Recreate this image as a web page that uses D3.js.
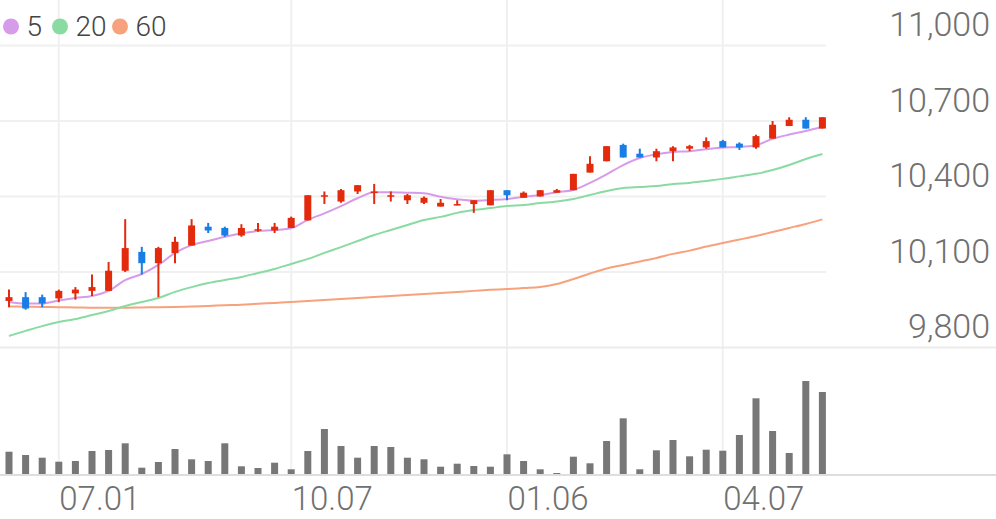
<!DOCTYPE html>
<html>
<head>
<meta charset="utf-8">
<script src="https://cdn.jsdelivr.net/npm/d3@7"></script>
<style>
    body { margin: 0; background: #fff; }
    svg { display: block; }
    svg text { font-family: Roboto, "Noto Sans", sans-serif; }

    .grid line { stroke: #f0f0f0; stroke-width: 2; }
    .sep { stroke: #ececec; stroke-width: 2; }
    .base { stroke: #dedede; stroke-width: 2; }

    .yaxis text { font-size: 34px; font-weight: 300; fill: #707070; }
    .xaxis text { font-size: 33px; font-weight: 300; fill: #707070; }
    .legend text { font-size: 28px; font-weight: 300; fill: #444; }

    .ma { fill: none; stroke-width: 2; }
</style>
</head>
<body>
<svg class="chart" width="996" height="519"></svg>
<script>

    // weekly candles
    const dates = ["2024-06-10","2024-06-17","2024-06-24","2024-07-01","2024-07-08","2024-07-15","2024-07-22","2024-07-29",
        "2024-08-05","2024-08-12","2024-08-19","2024-08-26","2024-09-02","2024-09-09","2024-09-16","2024-09-23","2024-09-30",
        "2024-10-07","2024-10-14","2024-10-21","2024-10-28","2024-11-04","2024-11-11","2024-11-18","2024-11-25","2024-12-02",
        "2024-12-09","2024-12-16","2024-12-23","2024-12-30","2025-01-06","2025-01-13","2025-01-20","2025-01-27","2025-02-03",
        "2025-02-10","2025-02-17","2025-02-24","2025-03-03","2025-03-10","2025-03-17","2025-03-24","2025-03-31","2025-04-07",
        "2025-04-14","2025-04-21","2025-04-28","2025-05-05","2025-05-12","2025-05-19"];

    const open  = [9985,10000,10000,9995,10015,10025,10025,10105,10180,10135,10175,10205,10280,10275,10245,10265,10265,
        10275,10305,10400,10380,10420,10415,10400,10385,10375,10360,10365,10370,10365,10425,10395,10400,10415,10425,
        10495,10540,10605,10570,10555,10580,10590,10595,10620,10610,10595,10630,10680,10705,10670];
    const high  = [10030,10020,10010,10030,10040,10090,10140,10310,10200,10200,10240,10310,10295,10280,10290,10295,10295,
        10320,10405,10420,10430,10445,10450,10420,10410,10400,10390,10385,10385,10425,10425,10420,10425,10430,10490,
        10560,10600,10610,10590,10590,10600,10605,10635,10625,10615,10645,10700,10715,10715,10715];
    const low   = [9960,9950,9960,9980,9990,10005,10025,10100,10090,10000,10135,10205,10255,10240,10240,10260,10255,
        10275,10305,10370,10375,10410,10370,10380,10370,10370,10360,10365,10335,10365,10385,10395,10400,10415,10425,
        10495,10540,10555,10555,10540,10540,10580,10590,10595,10585,10590,10630,10680,10670,10670];
    const close = [10000,9955,9975,10025,10030,10040,10105,10195,10135,10195,10220,10285,10265,10245,10275,10270,10280,
        10315,10405,10405,10425,10445,10420,10405,10405,10395,10375,10370,10385,10425,10405,10415,10425,10425,10490,
        10530,10600,10555,10555,10580,10595,10600,10620,10595,10595,10640,10685,10705,10670,10715];

    const volume = [233,200,173,133,140,240,250,317,73,130,260,157,140,317,87,70,123,57,240,460,290,173,290,280,173,
        157,83,113,90,83,207,140,57,20,183,117,340,567,57,247,350,187,253,243,400,767,440,220,940,830];

    const ma5  = [9981,9975,9975,9987,9997,10005,10025,10068,10092,10128,10176,10207,10223,10240,10254,10263,10267,
        10274,10307,10333,10362,10393,10417,10417,10415,10413,10399,10389,10383,10386,10390,10399,10406,10417,10426,
        10454,10488,10525,10553,10568,10577,10580,10588,10595,10597,10604,10629,10646,10660,10677];
    const ma20 = [9846,9866,9885,9901,9913,9929,9945,9965,9981,9997,10021,10040,10056,10068,10080,10096,10112,
        10132,10152,10176,10199,10223,10247,10267,10287,10307,10319,10335,10346,10354,10362,10366,10374,10380,10390,
        10406,10422,10434,10438,10442,10450,10454,10462,10470,10480,10490,10505,10525,10549,10569];
    const ma60 = [9963,9962,9961,9960,9959,9958,9958,9958,9959,9960,9961,9963,9965,9968,9970,9974,9977,
        9981,9985,9989,9993,9997,10001,10005,10009,10013,10017,10021,10025,10029,10032,10036,10040,10052,10072,
        10094,10114,10128,10142,10156,10172,10185,10201,10215,10229,10243,10259,10275,10291,10309];

    const yTicks = [9800, 10100, 10400, 10700, 11000];
    const xTicks = ["2024-07-01","2024-10-07","2025-01-06","2025-04-07"];

    const maSeries = [
        {name: "5",  values: ma5,  color: "#d69be9"},
        {name: "20", values: ma20, color: "#8adba2"},
        {name: "60", values: ma60, color: "#f7a27c"}
    ];

    const up = "#e32a0c", down = "#1a7de6";

    let svg = d3.select(".chart"),
        width = +svg.attr("width");

    let plotRight = 826,
        priceTop = 45.5, priceBottom = 347.5,
        volTop = 347, volBottom = 475;

    let x = d3.scalePoint()
        .domain(dates)
        .range([0.7, 830.7])
        .padding(0.5);

    let y = d3.scaleLinear()
        .domain([9800, 11000])
        .range([priceBottom, priceTop]);

    let yv = d3.scaleLinear()
        .domain([0, d3.max(volume) * 1.362])
        .range([volBottom, volTop]);

    // grid
    let grid = svg.append("g").attr("class", "grid");
    grid.selectAll(".v")
        .data(xTicks)
        .enter().append("line")
        .attr("x1", d => x(d)).attr("x2", d => x(d))
        .attr("y1", 0).attr("y2", volBottom);
    grid.selectAll(".h")
        .data(yTicks.filter(t => t > 9800))
        .enter().append("line")
        .attr("x1", 0).attr("x2", plotRight)
        .attr("y1", d => y(d)).attr("y2", d => y(d));

    svg.append("line").attr("class", "sep")
        .attr("x1", 0).attr("x2", width)
        .attr("y1", y(9800)).attr("y2", y(9800));

    // volume
    svg.append("g")
        .selectAll("rect")
        .data(volume)
        .enter().append("rect")
        .attr("x", (d, i) => x(dates[i]) - 3.5)
        .attr("width", 7)
        .attr("y", d => yv(d))
        .attr("height", d => volBottom - yv(d))
        .attr("fill", "#777");

    svg.append("line").attr("class", "base")
        .attr("x1", 0).attr("x2", width)
        .attr("y1", volBottom).attr("y2", volBottom);

    // moving averages
    let line = d3.line()
        .x((d, i) => x(dates[i]))
        .y(d => y(d))
        .curve(d3.curveMonotoneX);

    svg.append("g")
        .selectAll("path")
        .data(maSeries.slice().reverse())
        .enter().append("path")
        .attr("class", "ma")
        .attr("stroke", d => d.color)
        .attr("d", d => line(d.values));

    // candles
    let candle = svg.append("g")
        .selectAll("g")
        .data(dates)
        .enter().append("g")
        .attr("fill", (d, i) => close[i] >= open[i] ? up : down)
        .attr("stroke", (d, i) => close[i] >= open[i] ? up : down);

    candle.append("line")
        .attr("x1", d => x(d)).attr("x2", d => x(d))
        .attr("y1", (d, i) => y(high[i]))
        .attr("y2", (d, i) => y(low[i]))
        .attr("stroke-width", 2);

    candle.append("rect")
        .attr("x", d => x(d) - 3.5)
        .attr("width", 7)
        .attr("y", (d, i) => y(Math.max(open[i], close[i])))
        .attr("height", (d, i) => Math.max(1.5, Math.abs(y(open[i]) - y(close[i]))))
        .attr("stroke", "none");

    // axes
    let yAxis = svg.append("g")
        .attr("class", "yaxis")
        .attr("transform", "translate(990,0)")
        .call(d3.axisLeft(y).tickValues(yTicks).tickSize(0).tickPadding(0).tickFormat(d3.format(",")))
        .attr("font-family", null).attr("font-size", null);
    yAxis.select(".domain").remove();
    yAxis.selectAll("text").attr("dy", "-10px");

    let fmt = d3.timeFormat("%m.%d"), parse = d3.timeParse("%Y-%m-%d");
    let xAxis = svg.append("g")
        .attr("class", "xaxis")
        .attr("transform", "translate(0," + volBottom + ")")
        .call(d3.axisBottom(x).tickValues(xTicks).tickSize(0).tickPadding(0).tickFormat(d => fmt(parse(d))))
        .attr("font-family", null).attr("font-size", null);
    xAxis.select(".domain").remove();
    xAxis.selectAll("text")
        .attr("text-anchor", "start")
        .attr("y", 35).attr("dy", null);

    // legend
    let legend = svg.append("g")
        .attr("class", "legend")
        .selectAll("g")
        .data(maSeries)
        .enter().append("g");
    let legendX = [11, 60, 120];
    legend.append("circle")
        .attr("cx", (d, i) => legendX[i])
        .attr("cy", 26.5)
        .attr("r", 8)
        .attr("fill", d => d.color);
    legend.append("text")
        .attr("x", (d, i) => legendX[i] + 15.5)
        .attr("y", 36)
        .text(d => d.name);

</script>
</body>
</html>
